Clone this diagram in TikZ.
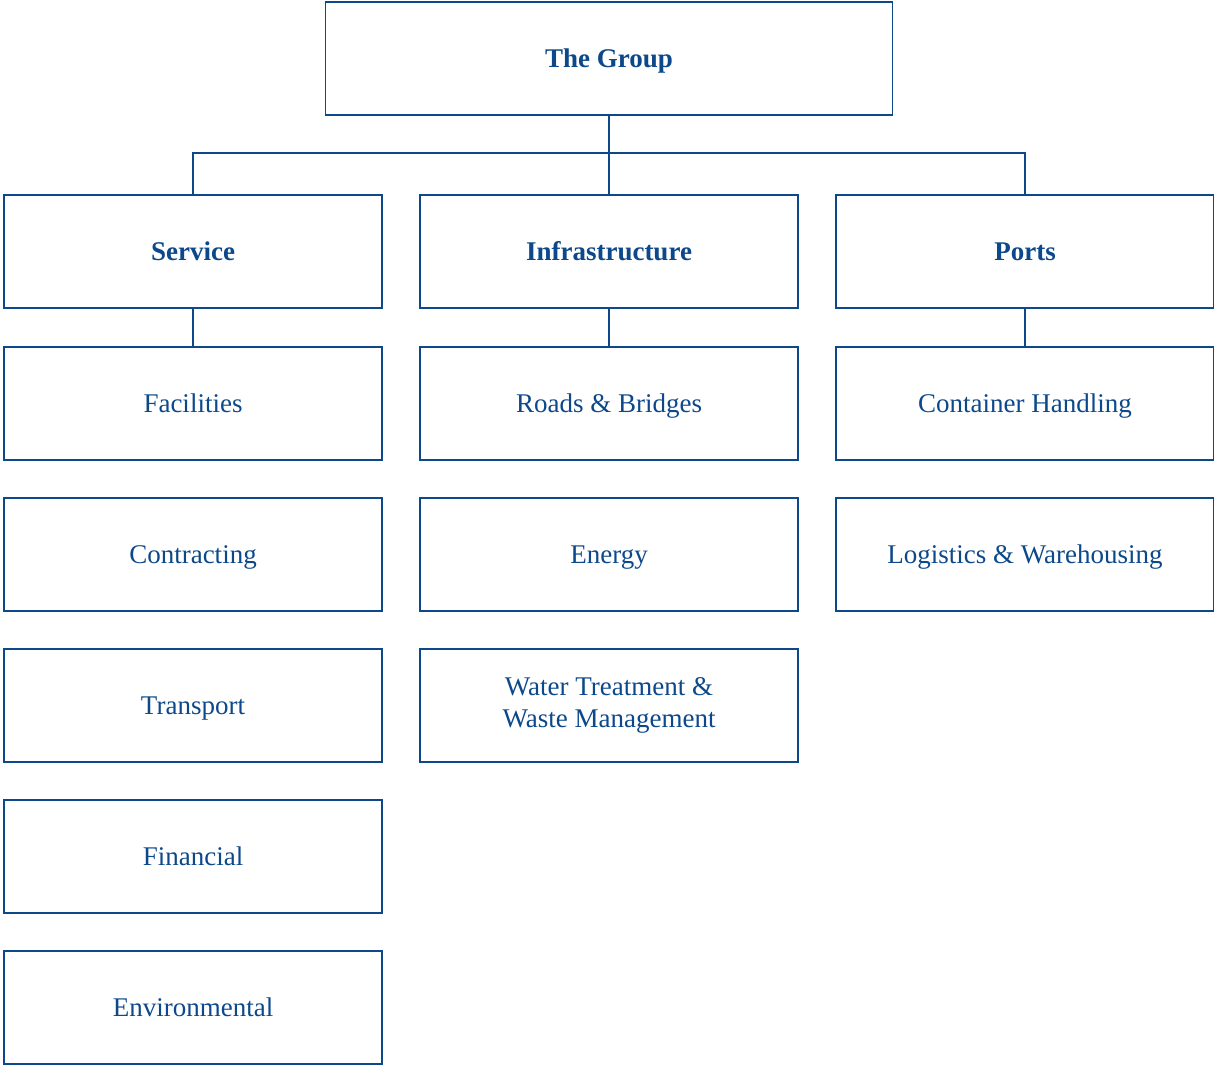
\documentclass[tikz,border=0pt]{standalone}
\usepackage{fontspec}
\setmainfont{Liberation Serif}
\definecolor{navy}{RGB}{12,72,138}
\begin{document}
\begin{tikzpicture}[x=1pt,y=-1pt,
  box/.style={draw=navy,line width=1.3pt,text=navy,minimum width=378pt,minimum height=113pt,inner sep=0pt,align=center,text height=20pt,text depth=2pt,font=\fontsize{27}{32}\selectfont},
  head/.style={box,font=\fontsize{27}{32}\selectfont\bfseries},
  link/.style={draw=navy,line width=1.3pt}]
\useasboundingbox (0,0) rectangle (1214,1065);
\node[head,minimum width=567pt] (grp) at (609,58.5) {The Group};
\node[head] (svc) at (193,251.5) {Service};
\node[head] (inf) at (609,251.5) {Infrastructure};
\node[head] (prt) at (1025,251.5) {Ports};
\node[box] (fac) at (193,403.5) {Facilities};
\node[box] (con) at (193,554.5) {Contracting};
\node[box] (tra) at (193,705.5) {Transport};
\node[box] (fin) at (193,856.5) {Financial};
\node[box] (env) at (193,1007.5) {Environmental};
\node[box] (rb) at (609,403.5) {Roads \& Bridges};
\node[box] (en) at (609,554.5) {Energy};
\node[box,text height=,text depth=] (wt) at (609,705.5) {Water Treatment \&\\Waste Management};
\node[box] (ch) at (1025,403.5) {Container Handling};
\node[box] (lw) at (1025,554.5) {Logistics \& Warehousing};
\coordinate (bar) at (609,153);
\draw[link] (grp.south) -- (inf.north);
\draw[link] (svc.north) |- (bar) -| (prt.north);
\draw[link] (svc) -- (fac);
\draw[link] (inf) -- (rb);
\draw[link] (prt) -- (ch);
\end{tikzpicture}
\end{document}
